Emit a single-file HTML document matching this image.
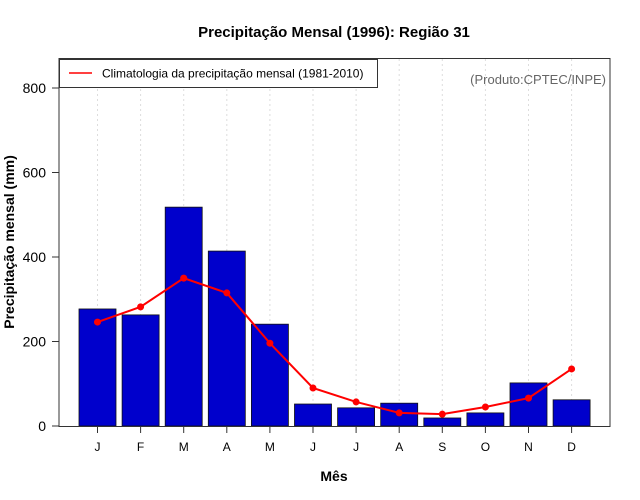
<!DOCTYPE html>
<html><head><meta charset="utf-8"><style>
body{margin:0;background:#fff;}
svg{display:block;font-family:"Liberation Sans",sans-serif;}
</style></head><body>
<svg id="c" width="640" height="500">
<text x="334" y="37" text-anchor="middle" font-size="15" font-weight="bold">Precipitação Mensal (1996): Região 31</text>
<text x="334" y="481" text-anchor="middle" font-size="14" font-weight="bold">Mês</text>
<text transform="translate(14,242) rotate(-90)" text-anchor="middle" font-size="14" font-weight="bold">Precipitação mensal (mm)</text>
<g id="grid"></g><g id="bars"></g><g id="line"></g><g id="axes"></g>
<rect x="59" y="58.5" width="551" height="368" fill="none" stroke="#333" stroke-width="1"/>
<g>
<rect x="59.5" y="59.5" width="318" height="28" fill="#fff" stroke="#333"/>
<line x1="69" y1="73" x2="92" y2="73" stroke="#ff0000" stroke-width="1.5"/>
<text x="102" y="77.5" font-size="12">Climatologia da precipitação mensal (1981-2010)</text>
</g>
<text x="606" y="84" text-anchor="end" font-size="13" fill="#666">(Produto:CPTEC/INPE)</text>
</svg>
<script>
const months=["J","F","M","A","M","J","J","A","S","O","N","D"];
const precip=[277,263,518,414,241,52,43,54,19,31,102,62];
const clim=[246,282,350,315,196,90,57,31,28,45,66,135];
const yTicks=[0,200,400,600,800];
const NS="http://www.w3.org/2000/svg";
const x=i=>97.5+i*43.1;
const y=v=>426-v*0.4225;
function mk(t,a,p){const e=document.createElementNS(NS,t);for(const k in a)e.setAttribute(k,a[k]);p.appendChild(e);return e;}
const g=document.getElementById('grid'),b=document.getElementById('bars'),l=document.getElementById('line'),ax=document.getElementById('axes');
months.forEach((m,i)=>{
 const gl=mk('line',{x1:x(i),x2:x(i),y1:59,y2:426,stroke:'#ddd','stroke-dasharray':'2,3'},g);
 
 
 const r=mk('rect',{x:x(i)-18.5,y:y(precip[i]),width:37,height:426-y(precip[i]),fill:'#0000cc',stroke:'#111','stroke-width':0.8},b);
 
 
 const tk=mk('line',{x1:x(i),x2:x(i),y1:426,y2:433,stroke:'#333'},ax);
 
 
 const tl=mk('text',{x:x(i),y:451,'text-anchor':'middle','font-size':12},ax);
 tl.textContent=m;
 
 
});
const pl=mk('polyline',{points:clim.map((v,i)=>x(i)+','+y(v)).join(' '),fill:'none',stroke:'#ff0000','stroke-width':2},l);


clim.forEach((v,i)=>{
 const c=mk('circle',{cx:x(i),cy:y(v),r:3.5,fill:'#ff0000'},l);
 
 
});
yTicks.forEach(v=>{
 const t=mk('line',{x1:52,x2:59,y1:y(v),y2:y(v),stroke:'#333'},ax);
 
 
 const tl=mk('text',{x:46,y:y(v)+5,'text-anchor':'end','font-size':14},ax);
 tl.textContent=v;
 
 
});
</script>
</body></html>
